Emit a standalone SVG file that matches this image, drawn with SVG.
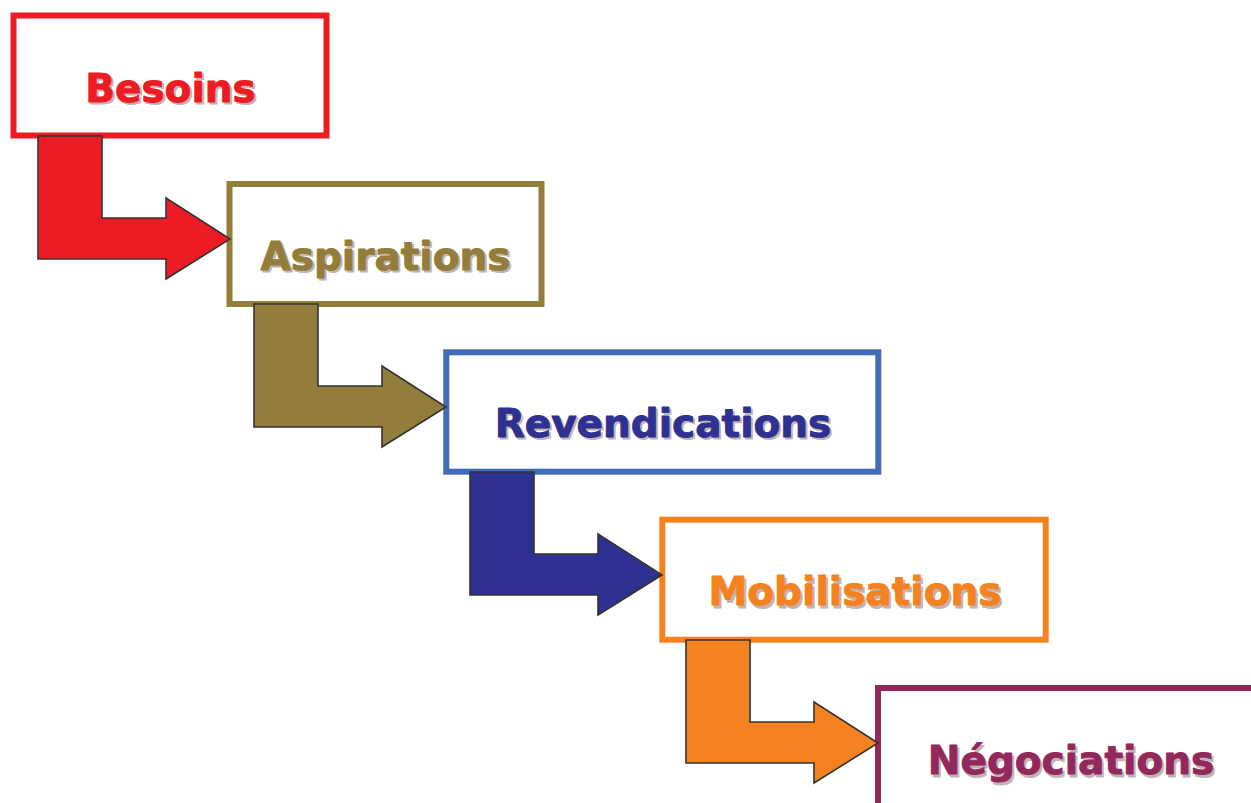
<svg xmlns="http://www.w3.org/2000/svg" width="1251" height="803" viewBox="0 0 1251 803">
<style>
.box{fill:#ffffff;stroke-width:6}
.lbl{font-family:"DejaVu Sans","Verdana",sans-serif;font-weight:bold;font-size:39px;text-anchor:middle;stroke-width:0.9;stroke-linejoin:round}
.sh{fill:#c2b4b0;stroke:#c2b4b0}
.arr{stroke:#333333;stroke-width:1.6;stroke-linejoin:miter}
</style>
<defs>
<path id="arrowShape" d="M38,136 L102,136 L102,218 L166,218 L166,198 L230,239 L166,279 L166,259 L38,259 Z"/>
</defs>
<rect width="1251" height="803" fill="#ffffff"/>
<g id="node-besoins">
<rect class="box" x="13.5" y="15.5" width="313" height="120" stroke="#ED1C24" stroke-width="7"/>
<text class="lbl sh" x="172.5" y="104">Besoins</text>
<text class="lbl" x="170.5" y="101.5" fill="#ED1C24" stroke="#ED1C24">Besoins</text>
</g>
<g id="node-aspirations">
<rect class="box" x="229.5" y="184" width="312" height="120" stroke="#937D3A" stroke-width="5.5"/>
<text class="lbl sh" x="387.5" y="272">Aspirations</text>
<text class="lbl" x="385.5" y="269.5" fill="#937D3A" stroke="#937D3A">Aspirations</text>
</g>
<g id="node-revendications">
<rect class="box" x="446.3" y="352.3" width="432" height="119.4" stroke="#3F6CB4"/>
<text class="lbl sh" x="665" y="439">Revendications</text>
<text class="lbl" x="663" y="436.5" fill="#2E3192" stroke="#2E3192">Revendications</text>
</g>
<g id="node-mobilisations">
<rect class="box" x="662.3" y="519.7" width="383.4" height="120" stroke="#F58220"/>
<text class="lbl sh" x="857" y="607.5">Mobilisations</text>
<text class="lbl" x="855" y="605" fill="#F58220" stroke="#F58220">Mobilisations</text>
</g>
<g id="node-negociations">
<rect class="box" x="878" y="688" width="420" height="200" stroke="#92285C" stroke-width="5.5"/>
<text class="lbl sh" x="1073" y="776.5">Négociations</text>
<text class="lbl" x="1071" y="774" fill="#92285C" stroke="#92285C">Négociations</text>
</g>
<g id="connectors">
<use href="#arrowShape" class="arr" fill="#ED1C24"/>
<use href="#arrowShape" class="arr" fill="#937D3A" transform="translate(216,168)"/>
<use href="#arrowShape" class="arr" fill="#2E3192" transform="translate(432,336)"/>
<use href="#arrowShape" class="arr" fill="#F58220" transform="translate(648,504)"/>
</g>
</svg>
